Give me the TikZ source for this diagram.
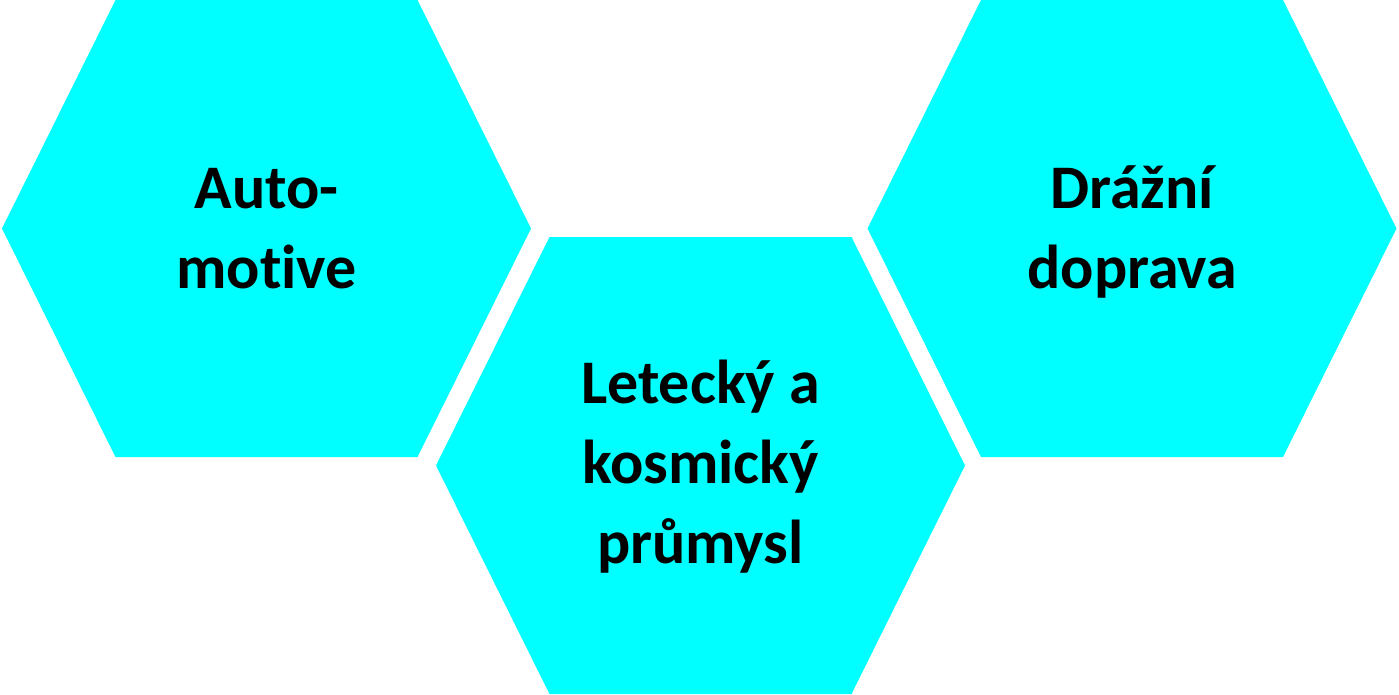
\documentclass[tikz,border=0pt]{standalone}
\usepackage{fontspec}
\setmainfont{Carlito}[Ligatures=NoCommon]
\usepackage{xcolor}
\definecolor{hexcyan}{HTML}{00FFFF}

\begin{document}
\begin{tikzpicture}[x=1pt, y=-1pt,
  hexlabel/.style={inner sep=0pt, align=center,
    font=\fontsize{62}{80}\selectfont\bfseries}]
  \useasboundingbox (0,0) rectangle (1399,695);
  % hexagons
  \foreach \cx/\cy in {266.5/228.5, 700.5/465.5, 1132/228.5}
    \fill[hexcyan, shift={(\cx,\cy)}] (-264.5,0) -- (-151,-228.5) -- (151,-228.5)
      -- (264.5,0) -- (151,228.5) -- (-151,228.5) -- cycle;
  % labels
  \node[hexlabel] (auto) at (266.5,229) {Auto-\\motive};
  \node[hexlabel] (letecky) at (700.5,467) {Letecký a\\kosmický\\průmysl};
  \node[hexlabel] (drazni) at (1132,232) {Drážní\\doprava};
\end{tikzpicture}
\end{document}
